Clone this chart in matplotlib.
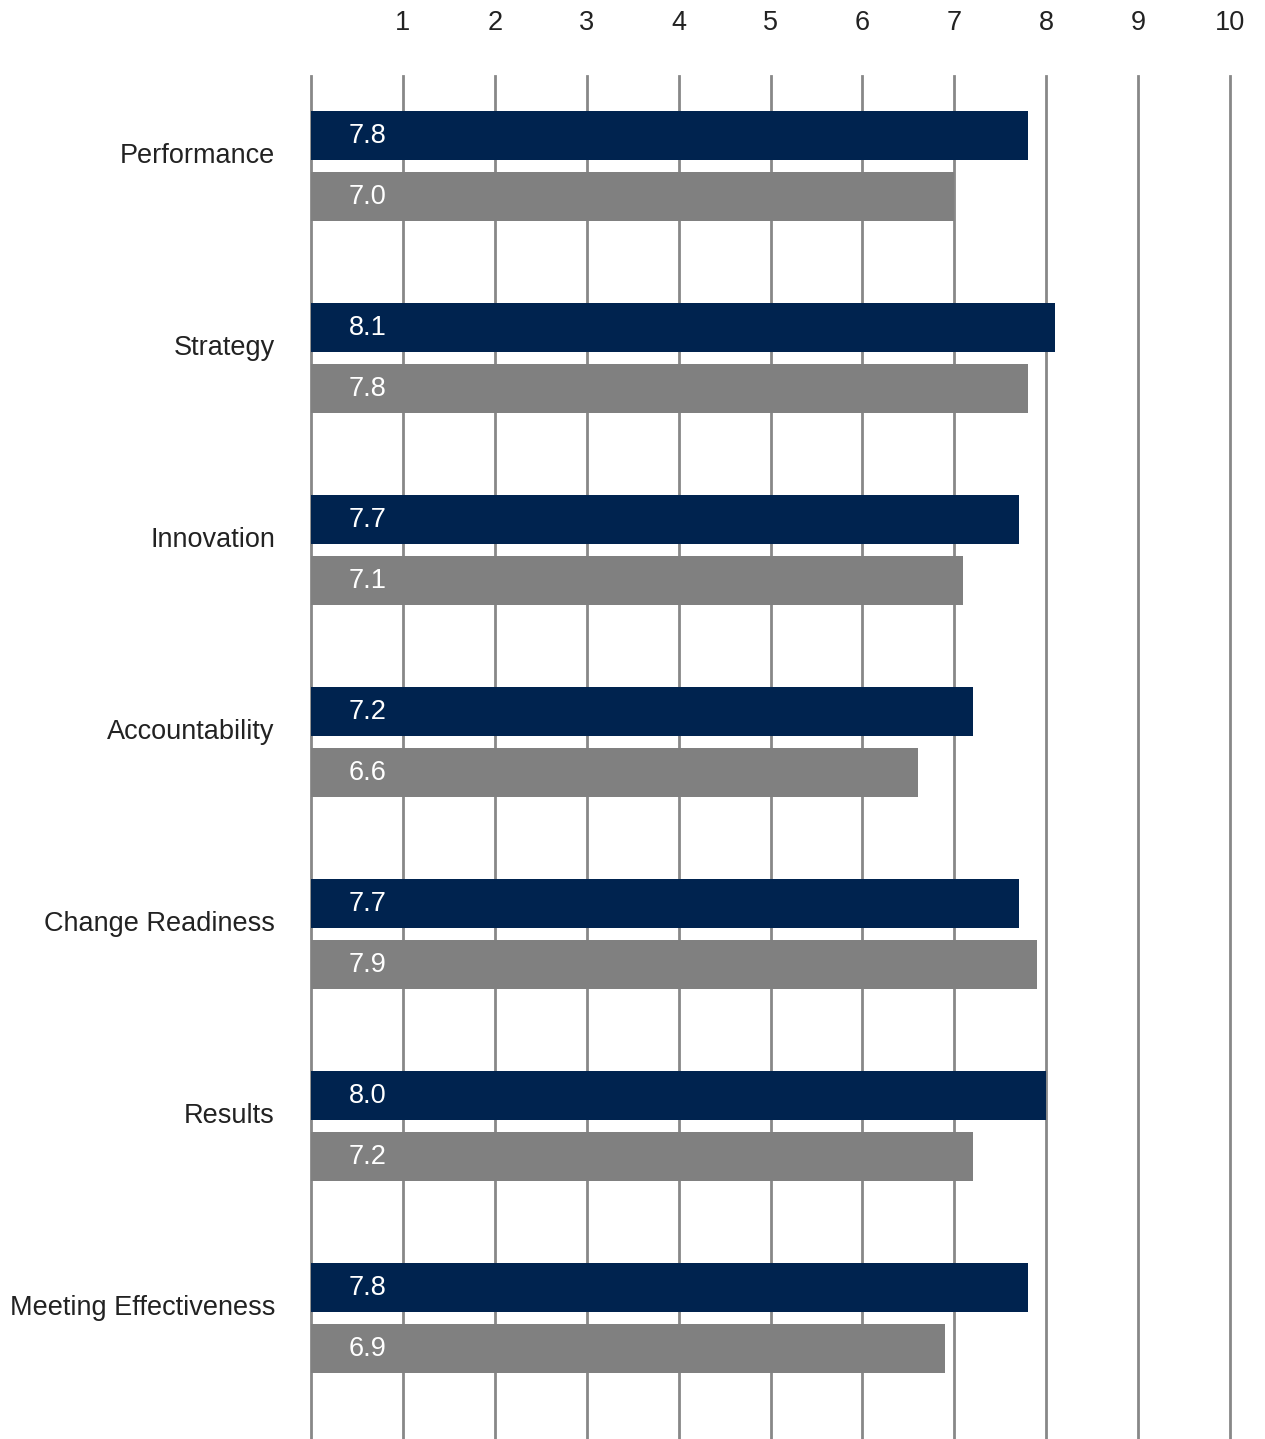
import numpy as np
import matplotlib.pyplot as plt

categories = ["Performance", "Strategy", "Innovation", "Accountability",
              "Change Readiness", "Results", "Meeting Effectiveness"]
series_a = [7.8, 8.1, 7.7, 7.2, 7.7, 8.0, 7.8]
series_b = [7.0, 7.8, 7.1, 6.6, 7.9, 7.2, 6.9]
ticks = list(range(1, 11))

plt.rcParams['font.family'] = ['Liberation Sans', 'DejaVu Sans']

fig = plt.figure(figsize=(12.65, 14.39), dpi=100)
ax = fig.add_axes([311 / 1265, 0.0, 919 / 1265, 1 - 76 / 1439])

pos = np.arange(len(categories))
off = 0.159
h = 0.255
fs = 19.5
ax.barh(pos - off, series_a, height=h, color='#00234F', zorder=3)
ax.barh(pos + off, series_b, height=h, color='#808080', zorder=3)

for i in range(len(categories)):
    ax.text(0.41, pos[i] - off, f"{series_a[i]:.1f}", color='white',
            fontsize=fs, va='center', ha='left', zorder=4)
    ax.text(0.41, pos[i] + off, f"{series_b[i]:.1f}", color='white',
            fontsize=fs, va='center', ha='left', zorder=4)

ax.set_xlim(0, 10)
ax.set_ylim(6.628, -0.47)

ax.set_xticks(ticks)
ax.xaxis.tick_top()
ax.tick_params(axis='x', length=0, pad=29, labelsize=fs, labelcolor='#222222')
ax.set_yticks(pos - 0.07)
ax.set_yticklabels(categories)
ax.tick_params(axis='y', length=0, pad=26, labelsize=fs, labelcolor='#222222')

for x in range(0, 11):
    ax.axvline(x, color='#888888', lw=2, zorder=1, clip_on=False)

for s in ax.spines.values():
    s.set_visible(False)

plt.savefig('out.png', dpi=100)
